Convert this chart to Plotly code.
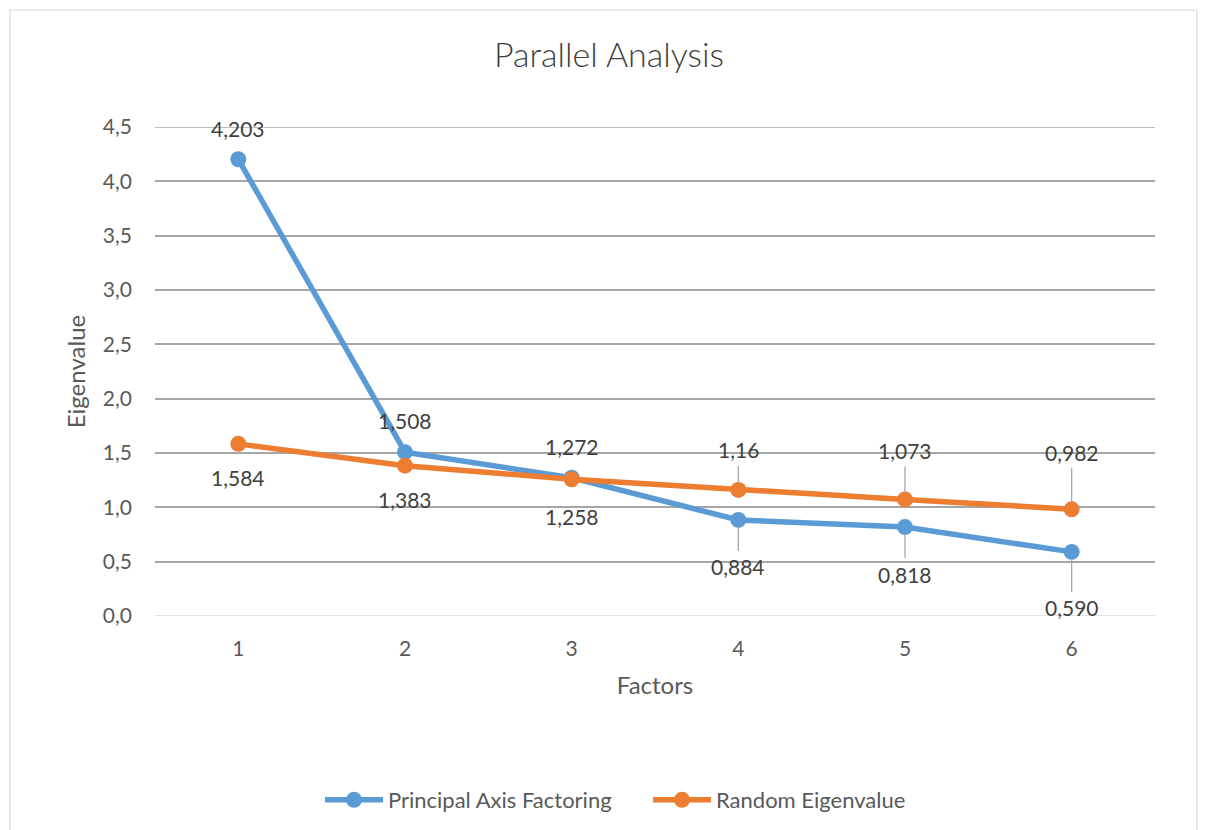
import plotly.graph_objects as go

factors = [1, 2, 3, 4, 5, 6]
paf_values = [4.203, 1.508, 1.272, 0.884, 0.818, 0.590]
paf_labels = ["4,203", "1,508", "1,272", "0,884", "0,818", "0,590"]
rand_values = [1.584, 1.383, 1.258, 1.16, 1.073, 0.982]
rand_labels = ["1,584", "1,383", "1,258", "1,16", "1,073", "0,982"]
y_ticks = [0, 0.5, 1, 1.5, 2, 2.5, 3, 3.5, 4, 4.5]

BLUE = "#5B9BD5"
ORANGE = "#ED7D31"
TXT = "#404040"
FONT = "Lato, Open Sans, sans-serif"

# the page body has an 8px margin; figure sized to fit window
W, H = 1198, 822
OFF = 8

# label offsets (pixels) and whether a leader line is shown
paf_offsets = [(-31, False), (-32, False), (-31, False), (47, True), (47, True), (56, True)]
rand_offsets = [(34, False), (34, False), (37, False), (-40, True), (-49, True), (-57, True)]

fig = go.Figure()
fig.add_trace(go.Scatter(x=factors, y=paf_values, mode="lines+markers",
                         name="Principal Axis Factoring",
                         line=dict(color=BLUE, width=5.5),
                         marker=dict(color=BLUE, size=16)))
fig.add_trace(go.Scatter(x=factors, y=rand_values, mode="lines+markers",
                         name="Random Eigenvalue",
                         line=dict(color=ORANGE, width=5.5),
                         marker=dict(color=ORANGE, size=16)))

annotations = []
for vals, labs, offs in ((paf_values, paf_labels, paf_offsets), (rand_values, rand_labels, rand_offsets)):
    for xv, yv, lab, (ay, lead) in zip(factors, vals, labs, offs):
        if lead:
            annotations.append(dict(
                x=xv, y=yv, xref="x", yref="y", text=lab,
                showarrow=True, ax=0, ay=ay, axref="pixel", ayref="pixel",
                arrowhead=0, arrowwidth=1.3, arrowcolor="#A6A6A6",
                standoff=7, startstandoff=2,
                font=dict(family=FONT, size=21, color=TXT)))
        else:
            annotations.append(dict(
                x=xv, y=yv, xref="x", yref="y", text=lab,
                showarrow=False, yshift=-ay,
                font=dict(family=FONT, size=21, color=TXT)))

plot_l, plot_r, plot_t, plot_b = 155 - OFF, 1155 - OFF, 127 - OFF, 616 - OFF

fig.update_layout(
    width=W, height=H,
    margin=dict(l=plot_l, r=W - plot_r, t=plot_t, b=H - plot_b, pad=0),
    paper_bgcolor="white", plot_bgcolor="white",
    separators=", ",
    font=dict(family=FONT, color=TXT),
    title=dict(text="Parallel Analysis", x=(609 - OFF) / W, xref="container", xanchor="center",
               y=1 - (55 - OFF) / H, yref="container", yanchor="middle",
               font=dict(family=FONT, size=34, color=TXT, weight=300)),
    xaxis=dict(range=[0.5, 6.5], tickvals=factors, ticktext=[str(f) for f in factors],
               showgrid=False, zeroline=False, showline=False,
               ticks="", tickfont=dict(family=FONT, size=21, color="#595959"),
               ticklabelstandoff=18,
               title=dict(text="Factors", standoff=18,
                          font=dict(family=FONT, size=24, color="#595959"))),
    yaxis=dict(range=[0, 4.5], tickvals=y_ticks, tickformat=".1f",
               showgrid=True, gridcolor="#A6A6A6", gridwidth=1.5,
               zeroline=False, showline=False, ticks="",
               tickfont=dict(family=FONT, size=21, color="#595959"),
               ticklabelstandoff=22,
               title=dict(text="Eigenvalue", standoff=10,
                          font=dict(family=FONT, size=24, color="#595959"))),
    showlegend=True,
    legend=dict(orientation="h", x=(648 - OFF) / W, xref="container", xanchor="center",
                y=1 - (800 - OFF) / H, yref="container", yanchor="middle",
                font=dict(family=FONT, size=22, color="#595959"),
                itemwidth=58, entrywidth=255, entrywidthmode="pixels",
                tracegroupgap=0),
    annotations=annotations,
    shapes=[
        dict(type="line", xref="paper", yref="y", x0=0, x1=1, y0=y_ticks[0], y1=y_ticks[0],
             line=dict(color="#D9D9D9", width=1.5), layer="below"),
        dict(type="line", xref="paper", yref="y", x0=0, x1=1, y0=y_ticks[-1], y1=y_ticks[-1],
             line=dict(color="#A6A6A6", width=1.5), layer="below"),
        dict(type="rect", xref="paper", yref="paper",
             x0=(10 - 155) / 1000, x1=(1197 - 155) / 1000,
             y0=(616 - 840) / 489, y1=(616 - 10) / 489,
             line=dict(color="#D9D9D9", width=1.2), fillcolor="rgba(0,0,0,0)"),
    ],
)

fig.write_html("out.html")
